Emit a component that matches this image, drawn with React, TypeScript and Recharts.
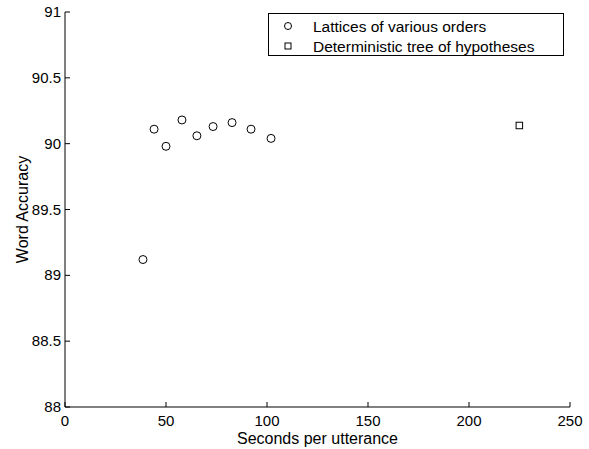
import React from 'react';
import { ScatterChart, Scatter, XAxis, YAxis, Label } from 'recharts';

const latticeSeconds = [38.6, 44.1, 50.0, 57.9, 65.3, 73.3, 82.7, 92.1, 102.0];
const latticeAccuracy = [89.12, 90.11, 89.98, 90.18, 90.06, 90.13, 90.16, 90.11, 90.04];
const treeSeconds = [224.8];
const treeAccuracy = [90.14];
const xTicks = [0, 50, 100, 150, 200, 250];
const yTicks = [88, 88.5, 89, 89.5, 90, 90.5, 91];
const seriesNames = ['Lattices of various orders', 'Deterministic tree of hypotheses'];

const latticeData = latticeSeconds.map((x, i) => ({ x, y: latticeAccuracy[i] }));
const treeData = treeSeconds.map((x, i) => ({ x, y: treeAccuracy[i] }));

const FONT = 'Liberation Sans, Arial, Helvetica, sans-serif';

const CircleShape = (props: any) => {
  const { cx, cy } = props;
  if (cx == null || cy == null) return null;
  return <circle cx={cx} cy={cy} r={4} fill="none" stroke="#000" strokeWidth={1} />;
};
const SquareShape = (props: any) => {
  const { cx, cy } = props;
  if (cx == null || cy == null) return null;
  return <rect x={cx - 3} y={cy - 3} width={6.5} height={6.5} fill="none" stroke="#000" strokeWidth={1} />;
};

const BottomTick = (props: any) => {
  const { x, y, payload } = props;
  return (
    <g>
      <line x1={x} y1={y} x2={x} y2={y - 5} stroke="#000" />
      <text x={x} y={y + 19} textAnchor="middle" fontSize={15} fontFamily={FONT} fill="#000">
        {payload.value}
      </text>
    </g>
  );
};
const TopTick = (props: any) => {
  const { x, y } = props;
  return <line x1={x} y1={y} x2={x} y2={y + 5} stroke="#000" />;
};
const LeftTick = (props: any) => {
  const { x, y, payload } = props;
  return (
    <g>
      <line x1={x} y1={y} x2={x + 5} y2={y} stroke="#000" />
      <text x={x - 4} y={y + 5} textAnchor="end" fontSize={15} fontFamily={FONT} fill="#000">
        {payload.value}
      </text>
    </g>
  );
};
const RightTick = (props: any) => {
  const { x, y } = props;
  return <line x1={x} y1={y} x2={x - 5} y2={y} stroke="#000" />;
};

const LegendBox = () => (
  <svg width={296} height={43} style={{ position: 'absolute', left: 268, top: 13, display: 'block' }}>
    <rect x={0.5} y={0.5} width={295} height={42} fill="#fff" stroke="#000" />
    <circle cx={20} cy={13} r={3.5} fill="none" stroke="#000" />
    <text x={45} y={18.5} fontSize={15.5} fontFamily={FONT} fill="#000">{seriesNames[0]}</text>
    <rect x={17} y={30} width={6} height={6} fill="none" stroke="#000" />
    <text x={45} y={38.5} fontSize={15.5} fontFamily={FONT} fill="#000">{seriesNames[1]}</text>
  </svg>
);

const YLabel = (props: any) => {
  const { viewBox } = props;
  const cy = viewBox.y + viewBox.height / 2;
  const cx = 22;
  return (
    <text x={cx} y={cy} transform={`rotate(-90 ${cx} ${cy})`} textAnchor="middle" dominantBaseline="central" fontSize={16} fontFamily={FONT} fill="#000">
      Word Accuracy
    </text>
  );
};

export default function App() {
  return (
    <div style={{ position: 'absolute', left: 0, top: 0, width: 589, height: 449, background: '#fff' }}>
      <ScatterChart width={589} height={449} margin={{ top: 12, right: 19, bottom: 0, left: 0 }}>
        <XAxis xAxisId="bottom" dataKey="x" type="number" domain={[0, 250]} ticks={xTicks} height={42}
          tickLine={false} tickSize={0} tickMargin={0} axisLine={{ stroke: '#000' }} tick={<BottomTick />} interval={0}>
          <Label value="Seconds per utterance" position="insideBottom" offset={5} fontSize={16} fontFamily={FONT} fill="#000" />
        </XAxis>
        <XAxis xAxisId="top" orientation="top" type="number" domain={[0, 250]} ticks={xTicks} height={0}
          tickLine={false} tickSize={0} tickMargin={0} axisLine={{ stroke: '#000' }} tick={<TopTick />} interval={0} />
        <YAxis yAxisId="left" dataKey="y" type="number" domain={[88, 91]} ticks={yTicks} width={65}
          tickLine={false} tickSize={0} tickMargin={0} axisLine={{ stroke: '#000' }} tick={<LeftTick />} interval={0}>
          <Label content={<YLabel />} />
        </YAxis>
        <YAxis yAxisId="right" orientation="right" type="number" domain={[88, 91]} ticks={yTicks} width={0}
          tickLine={false} tickSize={0} tickMargin={0} axisLine={{ stroke: '#000' }} tick={<RightTick />} interval={0} />
        <Scatter name={seriesNames[0]} data={latticeData} xAxisId="bottom" yAxisId="left" shape={<CircleShape />} isAnimationActive={false} />
        <Scatter name={seriesNames[1]} data={treeData} xAxisId="bottom" yAxisId="left" shape={<SquareShape />} isAnimationActive={false} />
      </ScatterChart>
      <LegendBox />
    </div>
  );
}
